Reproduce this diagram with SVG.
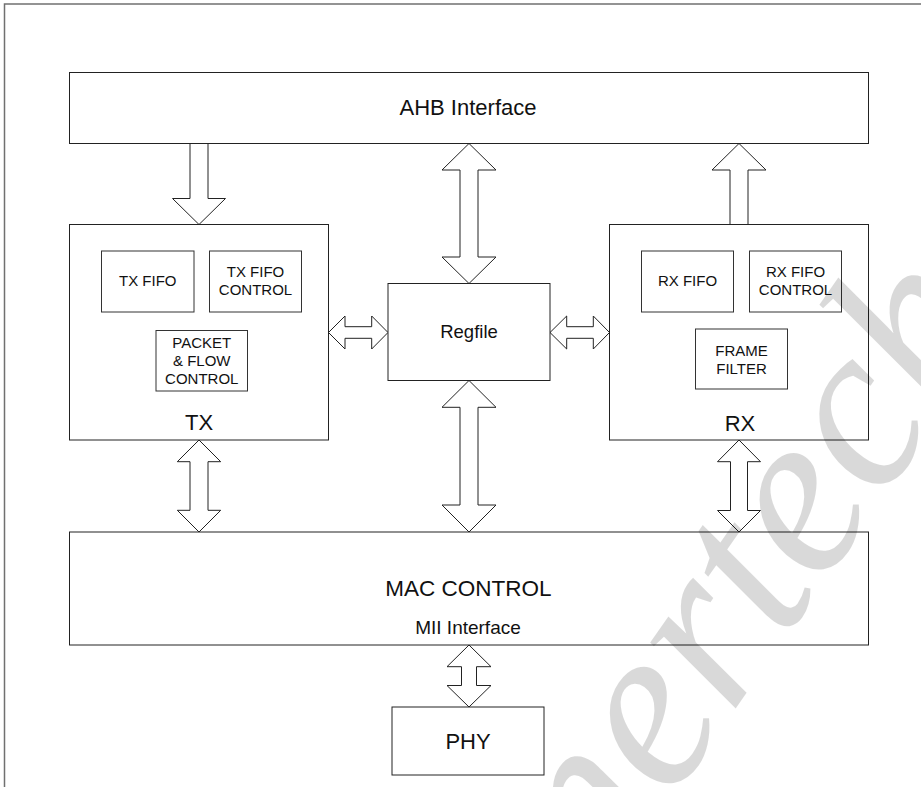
<svg xmlns="http://www.w3.org/2000/svg" width="921" height="787" viewBox="0 0 921 787">
  <style>
    .box { fill: #ffffff; stroke: #222222; stroke-width: 1; }
    .sub { fill: #ffffff; stroke: #333333; stroke-width: 1; }
    .bus { fill: #ffffff; stroke: #222222; stroke-width: 1; stroke-linejoin: miter; }
    text { font-family: "Liberation Sans", Arial, Helvetica, sans-serif; fill: #111111; text-anchor: middle; }
    .big { font-size: 22px; }
    .mid { font-size: 19px; }
    .small { font-size: 15px; }
    .frame { fill: none; stroke: #707070; stroke-width: 1.5; }
    .mark { font-family: "Liberation Serif", "Times New Roman", serif; font-style: italic; font-size: 235px; fill: #000000; fill-opacity: 0.15; text-anchor: start; }
  </style>

  <rect width="921" height="787" fill="#ffffff"/>

  <!-- page frame (top and left edges) -->
  <path class="frame" d="M4.5,787 V4 H921"/>

  <!-- bus connectors (block arrows) -->
  <g id="connectors">
    <!-- AHB -> TX -->
    <polygon class="bus" points="190,143.5 208,143.5 208,198.5 225.5,198.5 199,224.5 172.5,198.5 190,198.5"/>
    <!-- AHB <-> Regfile -->
    <polygon class="bus" points="469,143.5 496,170 478,170 478,257 496,257 469,283.5 442,257 460,257 460,170 442,170"/>
    <!-- RX -> AHB -->
    <polygon class="bus" points="739,143.5 766,170 748,170 748,224.5 730,224.5 730,170 712,170"/>
    <!-- TX <-> Regfile -->
    <polygon class="bus" points="328.5,332.5 345,316 345,326.7 371.7,326.7 371.7,316 388,332.5 371.7,349 371.7,338.3 345,338.3 345,349"/>
    <!-- Regfile <-> RX -->
    <polygon class="bus" points="550,332.5 566.7,316 566.7,326.7 593.3,326.7 593.3,316 609.5,332.5 593.3,349 593.3,338.3 566.7,338.3 566.7,349"/>
    <!-- TX <-> MAC -->
    <polygon class="bus" points="199,440 220.7,461.7 208,461.7 208,510.3 220.7,510.3 199,532 177.3,510.3 190,510.3 190,461.7 177.3,461.7"/>
    <!-- Regfile <-> MAC -->
    <polygon class="bus" points="469,380.5 496,407.3 478,407.3 478,505 496,505 469,532 442,505 460,505 460,407.3 442,407.3"/>
    <!-- RX <-> MAC -->
    <polygon class="bus" points="739,440 760.5,461.7 747.5,461.7 747.5,510.5 760.5,510.5 739,532 717.5,510.5 730.5,510.5 730.5,461.7 717.5,461.7"/>
    <!-- MAC <-> PHY -->
    <polygon class="bus" points="469,645 491,666.7 476.5,666.7 476.5,685.5 491,685.5 469,707 447,685.5 461.5,685.5 461.5,666.7 447,666.7"/>
  </g>

  <g id="ahb">
    <rect class="box" x="69.5" y="72.5" width="799" height="71"/>
    <text class="big" x="468" y="115">AHB Interface</text>
  </g>

  <g id="tx">
    <rect class="box" x="69.5" y="224.5" width="259" height="215.5"/>
    <text class="big" x="199" y="430">TX</text>
    <g id="tx-fifo">
      <rect class="sub" x="101.5" y="251" width="92.5" height="61"/>
      <text class="small" x="147.75" y="286">TX FIFO</text>
    </g>
    <g id="tx-fifo-control">
      <rect class="sub" x="209.5" y="251" width="92" height="61"/>
      <text class="small" x="255.5" y="277">TX FIFO</text>
      <text class="small" x="255.5" y="295">CONTROL</text>
    </g>
    <g id="packet-flow-control">
      <rect class="sub" x="156" y="330.5" width="91.5" height="60.5"/>
      <text class="small" x="201.75" y="347.5">PACKET</text>
      <text class="small" x="201.75" y="365.5">&amp; FLOW</text>
      <text class="small" x="201.75" y="383.5">CONTROL</text>
    </g>
  </g>

  <g id="regfile">
    <rect class="box" x="388" y="283.5" width="162" height="97"/>
    <text x="469" y="337.5" style="font-size:18.5px">Regfile</text>
  </g>

  <g id="rx">
    <rect class="box" x="609.5" y="224.5" width="259" height="215.5"/>
    <text class="big" x="740" y="430.5">RX</text>
    <g id="rx-fifo">
      <rect class="sub" x="641.5" y="251" width="92" height="61"/>
      <text class="small" x="687.5" y="286">RX FIFO</text>
    </g>
    <g id="rx-fifo-control">
      <rect class="sub" x="749.5" y="251" width="92" height="61"/>
      <text class="small" x="795.5" y="277">RX FIFO</text>
      <text class="small" x="795.5" y="295">CONTROL</text>
    </g>
    <g id="frame-filter">
      <rect class="sub" x="695.5" y="329" width="92" height="60"/>
      <text class="small" x="741.5" y="355.5">FRAME</text>
      <text class="small" x="741.5" y="373.5">FILTER</text>
    </g>
  </g>

  <g id="mac">
    <rect class="box" x="69.5" y="532" width="799" height="113"/>
    <text x="468.5" y="596" style="font-size:22.5px">MAC CONTROL</text>
    <text class="mid" x="468" y="633.5">MII Interface</text>
  </g>

  <g id="phy">
    <rect class="box" x="392" y="707" width="152" height="68"/>
    <text class="big" x="468" y="748.5">PHY</text>
  </g>

  <!-- translucent watermark laid over the drawing -->
  <text class="mark" transform="translate(603,898) rotate(-55)">nertech</text>
</svg>
